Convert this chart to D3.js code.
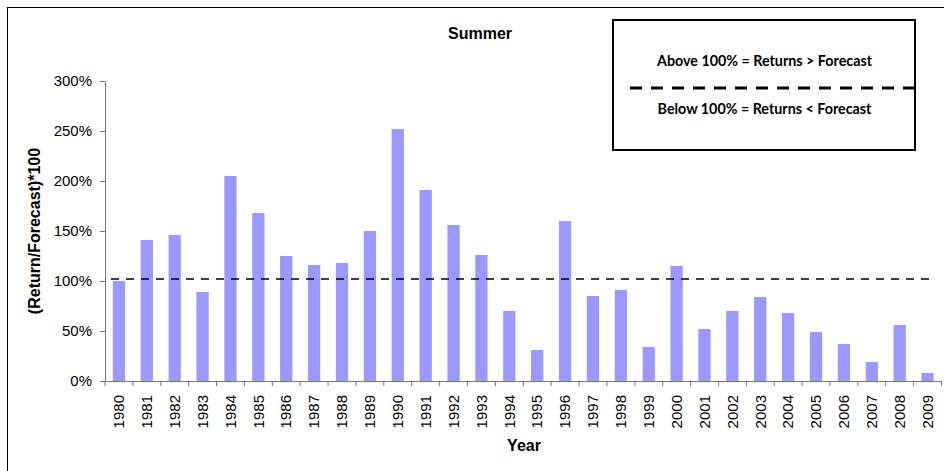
<!DOCTYPE html>
<html><head><meta charset="utf-8">
<script src="https://cdn.jsdelivr.net/npm/d3@7"></script>
<style>body{margin:0;background:#fff}svg{display:block}</style>
</head><body>
<svg id="c" width="944" height="471"></svg>
<script>
const years = ["1980","1981","1982","1983","1984","1985","1986","1987","1988","1989","1990","1991","1992","1993","1994","1995","1996","1997","1998","1999","2000","2001","2002","2003","2004","2005","2006","2007","2008","2009"];
const ratios = [100,141,146,89,205,168,125,116,118,150,252,191,156,126,70,31,160,85,91,34,115,52,70,84,68,49,37,19,56,8];
const yTicks = [0,50,100,150,200,250,300];
const referenceLevel = 102;
const chartTitle = "Summer";
const yTitle = "(Return/Forecast)*100";
const xTitle = "Year";
const legendLines = ["Above 100% = Returns > Forecast","Below 100% = Returns < Forecast"];

(function(){
const svg = d3.select("#c");
svg.append("rect").attr("x",7.5).attr("y",7.5).attr("width",960).attr("height",480)
  .attr("fill","none").attr("stroke","#000").attr("stroke-width",1);

const pL=105, pR=941.5, pT=81, pB=381;
const x = d3.scaleBand().domain(years).range([pL,pR]).paddingInner(0.56).paddingOuter(0.28);
const xb = d3.scaleBand().domain(years).range([pL,pR]);
const y = d3.scaleLinear().domain([0,300]).range([pB,pT]);

svg.append("g").selectAll("rect").data(years).join("rect")
  .attr("x",d=>x(d)).attr("width",x.bandwidth())
  .attr("y",(d,i)=>y(ratios[i])).attr("height",(d,i)=>y(0)-y(ratios[i]))
  .attr("fill","#9999FF");

const ya = svg.append("g").attr("transform",`translate(${pL},0)`)
  .call(d3.axisLeft(y).tickValues(yTicks).tickFormat(d=>d+"%").tickSizeOuter(0).tickSize(5).tickPadding(8));
ya.selectAll("text").attr("font-family","Liberation Sans, Arial, sans-serif").attr("font-size",15).attr("fill","#000");
ya.selectAll("line,path").attr("stroke","#777");

const xa = svg.append("g").attr("transform",`translate(0,${pB})`)
  .call(d3.axisBottom(xb).tickSize(0).tickSizeOuter(0));
xa.select("path").attr("stroke","#777");
xa.selectAll("text").attr("font-family","Liberation Sans, Arial, sans-serif").attr("font-size",15).attr("fill","#000")
  .attr("transform","rotate(-90)").attr("text-anchor","end").attr("dy","0.35em").attr("x",-14).attr("y",0);
const bounds = years.map(d=>xb(d)).concat([xb(years[years.length-1])+xb.bandwidth()]);
svg.append("g").selectAll("line").data(bounds).join("line")
  .attr("x1",d=>d).attr("x2",d=>d)
  .attr("y1",pB).attr("y2",pB+5).attr("stroke","#777");

svg.append("line").attr("x1",111).attr("x2",929).attr("y1",y(referenceLevel)).attr("y2",y(referenceLevel))
  .attr("stroke","#000").attr("stroke-width",1.5).attr("stroke-dasharray","8,7");

svg.append("text").attr("x",480).attr("y",39).attr("text-anchor","middle")
  .attr("font-family","Liberation Sans, Arial, sans-serif").attr("font-weight","bold").attr("font-size",16).text(chartTitle);
svg.append("text").attr("transform",`translate(39.5,${(pT+pB)/2}) rotate(-90)`).attr("text-anchor","middle")
  .attr("font-family","Liberation Sans, Arial, sans-serif").attr("font-weight","bold").attr("font-size",16).text(yTitle);
svg.append("text").attr("x",524).attr("y",451).attr("text-anchor","middle")
  .attr("font-family","Liberation Sans, Arial, sans-serif").attr("font-weight","bold").attr("font-size",16).text(xTitle);

svg.append("rect").attr("x",613).attr("y",20).attr("width",302).attr("height",130)
  .attr("fill","#fff").attr("stroke","#000").attr("stroke-width",2);
svg.append("text").attr("x",764.5).attr("y",65.5).attr("text-anchor","middle")
  .attr("font-family","Lato, Carlito, sans-serif").attr("font-weight","bold").attr("font-size",14.3).text(legendLines[0]);
svg.append("line").attr("x1",630).attr("x2",914).attr("y1",88).attr("y2",88)
  .attr("stroke","#000").attr("stroke-width",3).attr("stroke-dasharray","12,9");
svg.append("text").attr("x",764.5).attr("y",113.5).attr("text-anchor","middle")
  .attr("font-family","Lato, Carlito, sans-serif").attr("font-weight","bold").attr("font-size",14.3).text(legendLines[1]);
})();
</script>
</body></html>
